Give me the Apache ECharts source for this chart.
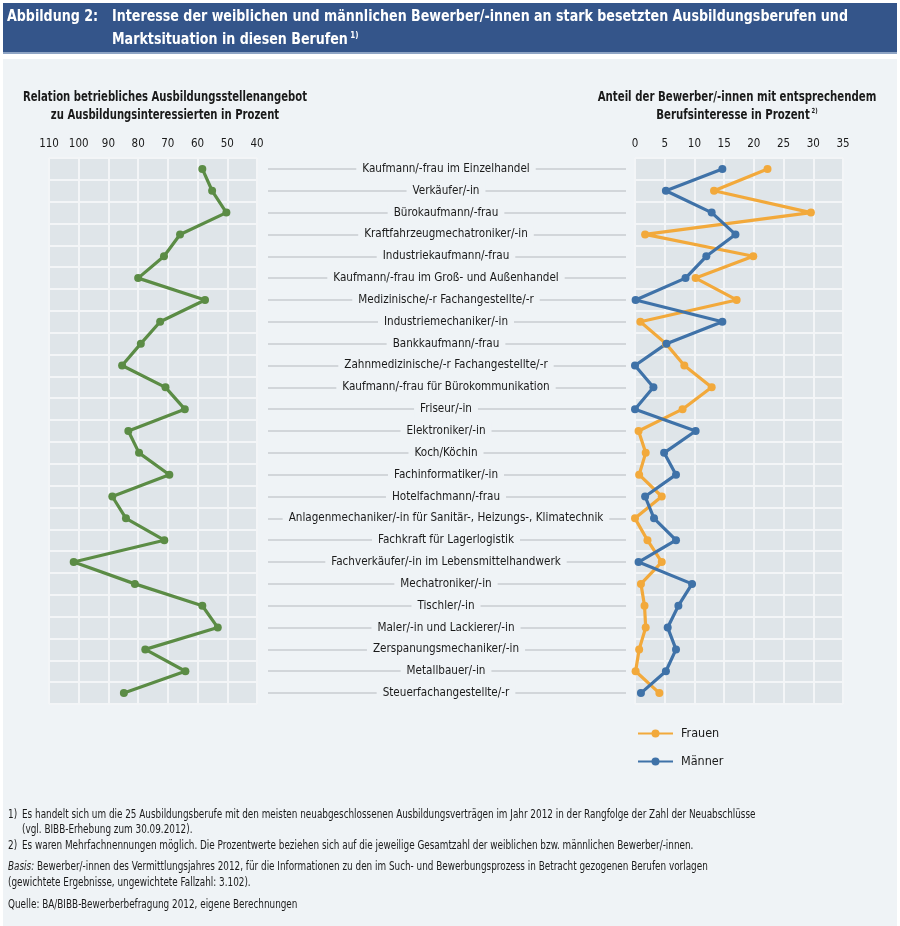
<!DOCTYPE html>
<html>
<head>
<meta charset="utf-8">
<script src="https://cdn.jsdelivr.net/npm/echarts@6/dist/echarts.min.js"></script>
<style>
html,body{margin:0;padding:0;background:#ffffff;}
#chart{width:900px;height:926px;}
</style>
</head>
<body>
<div id="chart"></div>
<script>
const categories = [
  'Kaufmann/-frau im Einzelhandel',
  'Verkäufer/-in',
  'Bürokaufmann/-frau',
  'Kraftfahrzeugmechatroniker/-in',
  'Industriekaufmann/-frau',
  'Kaufmann/-frau im Groß- und Außenhandel',
  'Medizinische/-r Fachangestellte/-r',
  'Industriemechaniker/-in',
  'Bankkaufmann/-frau',
  'Zahnmedizinische/-r Fachangestellte/-r',
  'Kaufmann/-frau für Bürokommunikation',
  'Friseur/-in',
  'Elektroniker/-in',
  'Koch/Köchin',
  'Fachinformatiker/-in',
  'Hotelfachmann/-frau',
  'Anlagenmechaniker/-in für Sanitär-, Heizungs-, Klimatechnik',
  'Fachkraft für Lagerlogistik',
  'Fachverkäufer/-in im Lebensmittelhandwerk',
  'Mechatroniker/-in',
  'Tischler/-in',
  'Maler/-in und Lackierer/-in',
  'Zerspanungsmechaniker/-in',
  'Metallbauer/-in',
  'Steuerfachangestellte/-r'
];
const relationValues = [58.4, 55.1, 50.3, 65.9, 71.3, 80.0, 57.5, 72.6, 79.1, 85.4, 70.8, 64.3, 83.3, 79.7, 69.5, 88.7, 84.1, 71.2, 101.7, 81.1, 58.4, 53.2, 77.6, 64.1, 84.8];
const frauenValues = [22.3, 13.3, 29.6, 1.7, 19.9, 10.2, 17.1, 0.9, 5.2, 8.3, 12.9, 8.0, 0.6, 1.8, 0.7, 4.5, 0.0, 2.1, 4.5, 1.0, 1.6, 1.8, 0.7, 0.1, 4.1];
const maennerValues = [14.7, 5.2, 12.9, 16.9, 12.0, 8.5, 0.1, 14.7, 5.3, 0.0, 3.1, 0.0, 10.2, 4.9, 6.9, 1.7, 3.2, 6.9, 0.6, 9.6, 7.3, 5.5, 6.9, 5.2, 1.0];
const relationAxis = { min: 40, max: 110, interval: 10 };
const shareAxis = { min: 0, max: 35, interval: 5 };
const seriesNames = ['Frauen', 'Männer'];

const FONT = "'Liberation Sans Narrow', 'DejaVu Sans Condensed', 'Roboto', sans-serif";
const BG = '#eff3f6';
const PLOT_BG = '#dfe5e9';
const GRID_LINE = '#f3f5f7';
const TXT = '#1a1a1a';

const chart = echarts.init(document.getElementById('chart'));

function txt(x, y, text, opts) {
  opts = opts || {};
  const size = opts.size || 12;
  const weight = opts.weight || 'normal';
  const style = {
    text: text,
    fill: opts.color || TXT,
    font: weight + ' ' + size + 'px ' + FONT,
    textAlign: opts.align || 'left',
    textVerticalAlign: 'middle'
  };
  if (opts.rich) style.rich = opts.rich;
  return { type: 'text', x: x, y: y, scaleX: opts.scaleX || 1, style: style, silent: true };
}

const FN = { size: 12, scaleX: 0.82 };
const richSup = (size, color, weight) => ({
  a: { fontSize: size, fontWeight: weight, fontFamily: FONT, color: color },
  s: { fontSize: Math.round(size * 0.55), fontWeight: weight, fontFamily: FONT, color: color, verticalAlign: 'top', padding: [0, 0, Math.round(size * 0.5), 0] }
});

const valueAxisCommon = {
  type: 'value',
  position: 'top',
  axisLine: { show: false },
  axisTick: { show: false },
  axisLabel: { fontSize: 11.5, color: TXT, margin: 8, fontFamily: FONT },
  splitLine: { show: true, lineStyle: { color: GRID_LINE, width: 2 } }
};
const catAxisCommon = {
  type: 'category',
  data: categories,
  inverse: true,
  boundaryGap: true,
  axisLine: { show: false },
  axisTick: { show: false },
  axisLabel: { show: false },
  splitLine: { show: true, interval: 0, lineStyle: { color: GRID_LINE, width: 2 } }
};

const lineStyleSeries = (color) => ({
  type: 'line',
  symbol: 'circle',
  symbolSize: 8,
  clip: false,
  lineStyle: { color: color, width: 3.2 },
  itemStyle: { color: color },
  emphasis: { disabled: true },
  animation: false
});

const option = {
  backgroundColor: '#ffffff',
  animation: false,
  textStyle: { fontFamily: FONT },
  graphic: [
    { type: 'rect', z: -10, shape: { x: 3, y: 3, width: 894, height: 51 }, style: { fill: '#34558a' } },
    { type: 'rect', z: -10, shape: { x: 3, y: 52, width: 894, height: 2 }, style: { fill: '#8ea4c4' } },
    { type: 'rect', z: -10, shape: { x: 3, y: 59, width: 894, height: 867 }, style: { fill: BG } },
    txt(7, 17, 'Abbildung 2:', { size: 16, weight: 'bold', color: '#ffffff', scaleX: 0.88 }),
    txt(112, 17, 'Interesse der weiblichen und männlichen Bewerber/-innen an stark besetzten Ausbildungsberufen und', { size: 16, weight: 'bold', color: '#ffffff', scaleX: 0.88 }),
    txt(112, 40, '{a|Marktsituation in diesen Berufen}{s| 1)}', { size: 16, weight: 'bold', color: '#ffffff', scaleX: 0.88, rich: richSup(16, '#ffffff', 'bold') }),

    txt(165, 97, 'Relation betriebliches Ausbildungsstellenangebot', { size: 13.5, weight: 'bold', align: 'center', scaleX: 0.83 }),
    txt(165, 115, 'zu Ausbildungsinteressierten in Prozent', { size: 13.5, weight: 'bold', align: 'center', scaleX: 0.83 }),
    txt(737, 97, 'Anteil der Bewerber/-innen mit entsprechendem', { size: 13.5, weight: 'bold', align: 'center', scaleX: 0.84 }),
    txt(737, 115, '{a|Berufsinteresse in Prozent}{s| 2)}', { size: 13.5, weight: 'bold', align: 'center', scaleX: 0.84, rich: richSup(13.5, TXT, 'bold') }),

    txt(8, 815, '1)', FN),
    txt(22, 815, 'Es handelt sich um die 25 Ausbildungsberufe mit den meisten neuabgeschlossenen Ausbildungsverträgen im Jahr 2012 in der Rangfolge der Zahl der Neuabschlüsse', FN),
    txt(22, 830, '(vgl. BIBB-Erhebung zum 30.09.2012).', FN),
    txt(8, 846, '2)', FN),
    txt(22, 846, 'Es waren Mehrfachnennungen möglich. Die Prozentwerte beziehen sich auf die jeweilige Gesamtzahl der weiblichen bzw. männlichen Bewerber/-innen.', FN),
    txt(8, 867, '{i|Basis:} {n|Bewerber/-innen des Vermittlungsjahres 2012, für die Informationen zu den im Such- und Bewerbungsprozess in Betracht gezogenen Berufen vorlagen}', Object.assign({}, FN, {
      rich: { i: { fontStyle: 'italic', fontSize: 12, fontFamily: FONT, color: TXT }, n: { fontSize: 12, fontFamily: FONT, color: TXT } }
    })),
    txt(8, 883, '(gewichtete Ergebnisse, ungewichtete Fallzahl: 3.102).', FN),
    txt(8, 905, 'Quelle: BA/BIBB-Bewerberbefragung 2012, eigene Berechnungen', FN)
  ],
  legend: {
    data: seriesNames,
    orient: 'vertical',
    left: 637, top: 727,
    padding: 0,
    itemWidth: 35, itemHeight: 10, itemGap: 15,
    textStyle: { fontSize: 12.5, color: TXT, fontFamily: FONT, padding: [0, 0, 0, 3] },
    selectedMode: false
  },
  grid: [
    { left: 49, top: 158, width: 208, height: 546, show: true, backgroundColor: PLOT_BG, borderWidth: 0 },
    { left: 268, top: 158, width: 358, height: 546, show: false },
    { left: 635, top: 158, width: 208, height: 546, show: true, backgroundColor: PLOT_BG, borderWidth: 0 }
  ],
  xAxis: [
    Object.assign({}, valueAxisCommon, { gridIndex: 0, inverse: true, min: relationAxis.min, max: relationAxis.max, interval: relationAxis.interval }),
    { type: 'value', gridIndex: 1, min: 0, max: 1, show: false },
    Object.assign({}, valueAxisCommon, { gridIndex: 2, min: shareAxis.min, max: shareAxis.max, interval: shareAxis.interval })
  ],
  yAxis: [
    Object.assign({}, catAxisCommon, { gridIndex: 0 }),
    {
      type: 'category', gridIndex: 1, data: categories, inverse: true, boundaryGap: true, position: 'left',
      axisLine: { show: false },
      axisTick: { show: true, alignWithLabel: true, inside: true, length: 358, lineStyle: { color: '#c8ccd0', width: 1.6 } },
      axisLabel: {
        inside: true, margin: 178, align: 'center', verticalAlign: 'middle',
        fontSize: 11.6, color: TXT, fontFamily: FONT, interval: 0,
        backgroundColor: BG, padding: [2, 6, 2, 6]
      },
      splitLine: { show: false }
    },
    Object.assign({}, catAxisCommon, { gridIndex: 2 })
  ],
  series: [
    Object.assign(lineStyleSeries('#5b8c45'), { name: 'Relation', xAxisIndex: 0, yAxisIndex: 0, data: relationValues }),
    Object.assign(lineStyleSeries('#f2a93b'), { name: seriesNames[0], xAxisIndex: 2, yAxisIndex: 2, data: frauenValues }),
    Object.assign(lineStyleSeries('#3f72a8'), { name: seriesNames[1], xAxisIndex: 2, yAxisIndex: 2, data: maennerValues })
  ]
};
chart.setOption(option);
</script>
</body>
</html>
